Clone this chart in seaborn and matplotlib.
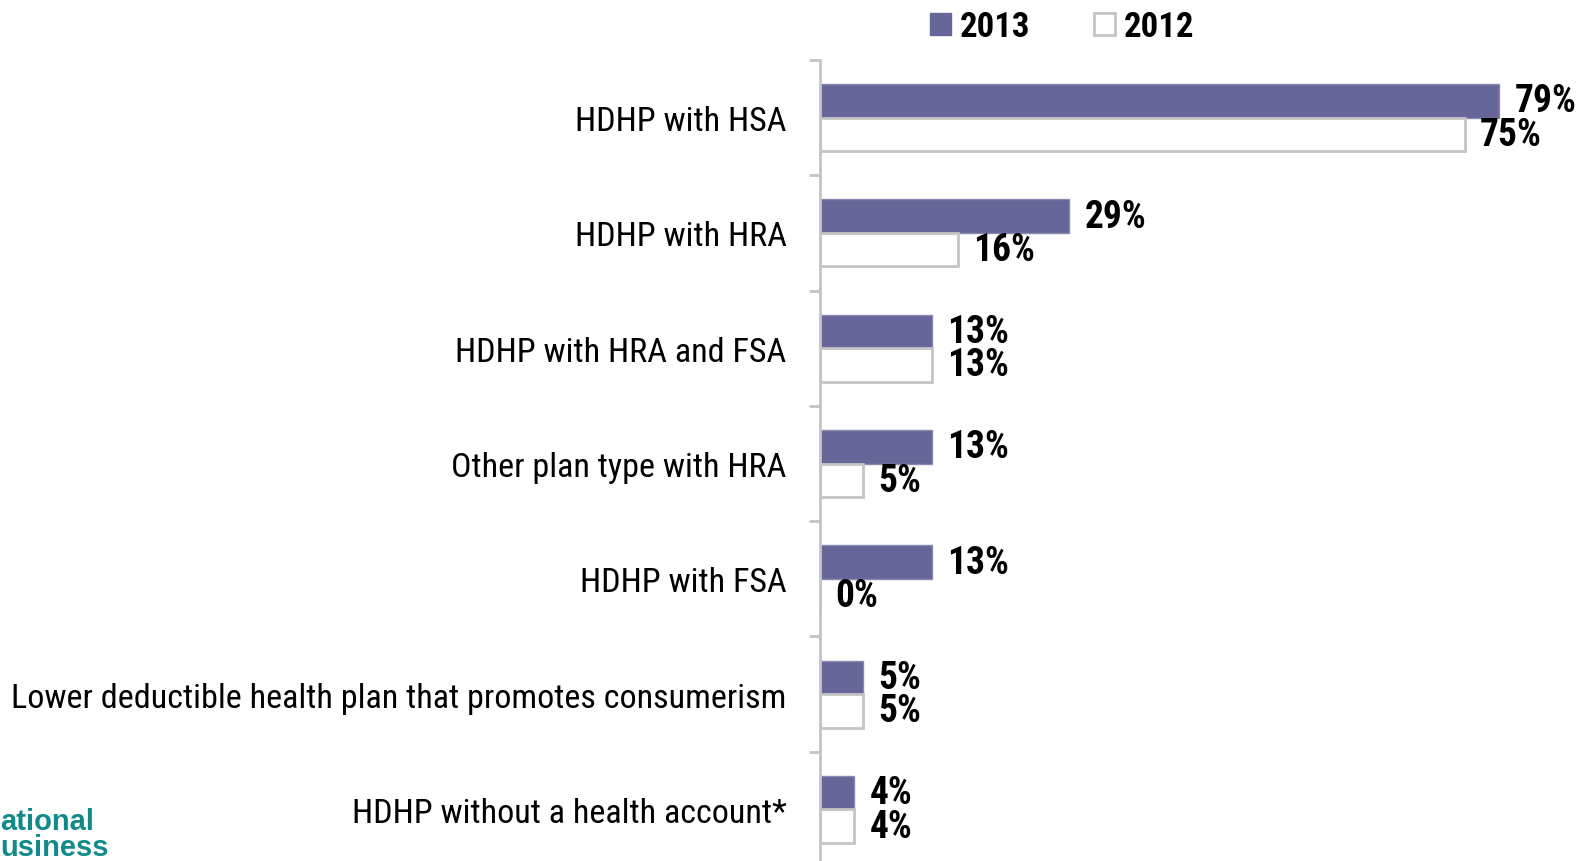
import matplotlib
matplotlib.use("Agg")
import matplotlib.pyplot as plt
from matplotlib.patches import Patch
import seaborn as sns
import pandas as pd

categories = [
    "HDHP with HSA",
    "HDHP with HRA",
    "HDHP with HRA and FSA",
    "Other plan type with HRA",
    "HDHP with FSA",
    "Lower deductible health plan that promotes consumerism",
    "HDHP without a health account*",
]
values_2013 = [79, 29, 13, 13, 13, 5, 4]
values_2012 = [75, 16, 13, 5, 0, 5, 4]
years = ["2013", "2012"]

df = pd.DataFrame({
    "plan": categories * 2,
    "year": [years[0]] * len(categories) + [years[1]] * len(categories),
    "pct": values_2013 + values_2012,
})

sns.set_theme(style="white")
NARROW = ["Roboto Condensed", "Archivo Narrow", "PT Sans Narrow", "DejaVu Sans"]
plt.rcParams["font.family"] = NARROW

PURPLE = "#666699"
GREY = "#c4c4c4"

W, H, DPI = 1585, 862, 100
fig = plt.figure(figsize=(W / DPI, H / DPI), dpi=DPI)
ax = fig.add_axes([820 / W, -6 / H, 688 / W, 807 / H])

sns.barplot(data=df, y="plan", x="pct", hue="year", hue_order=years,
            order=categories, orient="h", width=0.58, dodge=True,
            palette={"2013": PURPLE, "2012": "white"}, legend=False,
            ax=ax, saturation=1)

for patch, year in zip(ax.patches, [y for y in years for _ in categories]):
    if year == "2013":
        patch.set_edgecolor("#8a8ab0")
        patch.set_linewidth(1.0)
    else:
        patch.set_edgecolor(GREY)
        patch.set_linewidth(2.0)

ax.set_xlim(0, 80)
ax.set_ylim(len(categories) - 0.5, -0.5)

# value labels beside every bar
for cont, vals in zip(ax.containers, [values_2013, values_2012]):
    for rect, v in zip(cont, vals):
        yc = rect.get_y() + rect.get_height() / 2
        ax.annotate(f"{v}%", xy=(v, yc), xytext=(15, 0), textcoords="offset pixels",
                    ha="left", va="center", fontsize=27, fontweight="bold",
                    color="black", annotation_clip=False)

ax.set_xlabel("")
ax.set_ylabel("")
ax.set_xticks([])
ax.set_yticks(range(len(categories)))
ax.set_yticklabels(categories, fontsize=24.6, color="black")
ax.tick_params(axis="y", which="major", length=0, pad=24)
ax.set_yticks([i - 0.5 for i in range(len(categories) + 1)], minor=True)
ax.tick_params(axis="y", which="minor", length=8, width=2, color=GREY, left=True)

for side in ["top", "right", "bottom"]:
    ax.spines[side].set_visible(False)
ax.spines["left"].set_color(GREY)
ax.spines["left"].set_linewidth(2)

handles = [Patch(facecolor=PURPLE, edgecolor=PURPLE, label="2013"),
           Patch(facecolor="white", edgecolor=GREY, linewidth=2, label="2012")]
leg = fig.legend(handles=handles, loc="center", bbox_to_anchor=(0.670, 0.968),
                 ncol=2, frameon=False, handlelength=0.6, handleheight=0.6,
                 handletextpad=0.25, columnspacing=1.85,
                 prop={"size": 25, "weight": "bold", "family": NARROW})
for t in leg.get_texts():
    t.set_color("black")

fig.text(0.0, 1 - 822 / H, "ational", color="#118a8c",
         fontsize=21, fontweight="bold", family=["Liberation Sans", "DejaVu Sans"],
         ha="left", va="center")
fig.text(0.0, 1 - 848 / H, "usiness", color="#118a8c",
         fontsize=21, fontweight="bold", family=["Liberation Sans", "DejaVu Sans"],
         ha="left", va="center")

fig.savefig("out.png", dpi=DPI)
